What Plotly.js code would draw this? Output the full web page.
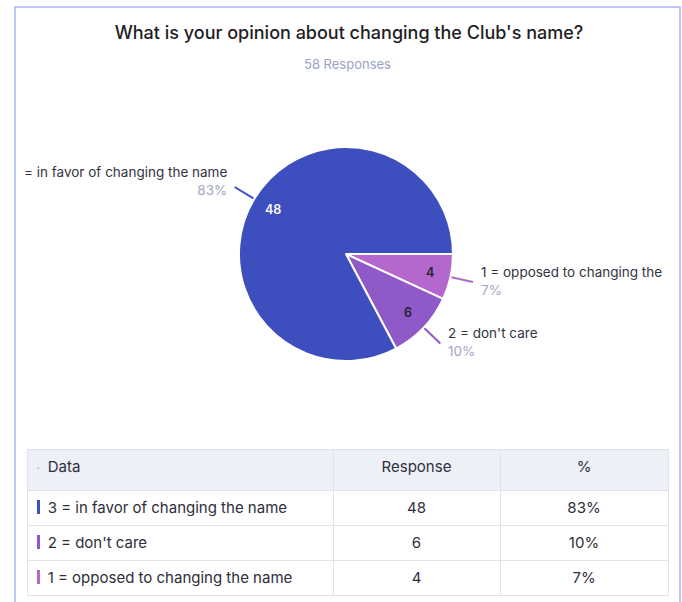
<!DOCTYPE html>
<html>
<head>
<meta charset="utf-8">
<script src="https://cdn.plot.ly/plotly-3.0.1.min.js"></script>
<style>
  html, body { margin: 0; padding: 0; background: #ffffff; }
  #chart { width: 682px; height: 602px; }
</style>
</head>
<body>
<div id="chart"></div>
<script>
// ---- data ----
var categories = ["1 = opposed to changing the name", "2 = don't care", "3 = in favor of changing the name"];
var sliceLabels = ["1 = opposed to changing the", "2 = don't care", "= in favor of changing the name"];
var responses = [4, 6, 48];
var percentLabels = ["7%", "10%", "83%"];
var colors = ["#b467cc", "#8f5ac8", "#3d4ebf"];
var totalResponses = 58;
var titleText = "What is your opinion about changing the Club's name?";
var tableHeader = ["Data", "Response", "%"];

// table rows ordered as in the reference (largest first)
var tableOrder = [2, 1, 0];

// ---- layout constants ----
var W = 682, H = 602;
var pieDomain = { x: [0.3504, 0.6642], y: [0.4003, 0.7558] };
var FONT = "Inter, 'Open Sans', 'DejaVu Sans', sans-serif";
var NB = "\u00a0";
var tableLeft = 27, tableRight = 668, tableTop = 449, headerH = 41, rowH = 35;
var textShift = 4;

var cx = (pieDomain.x[0] + pieDomain.x[1]) / 2 * W;
var cy = (1 - (pieDomain.y[0] + pieDomain.y[1]) / 2) * H;
var r = Math.min((pieDomain.x[1] - pieDomain.x[0]) * W, (pieDomain.y[1] - pieDomain.y[0]) * H) / 2;

function toPaper(px, py) { return { x: px / W, y: 1 - py / H }; }
function nbsp(t) { return t.replace(/ /g, NB); }

var total = responses.reduce(function (a, b) { return a + b; }, 0);
var annotations = [];
var shapes = [];

// card border
shapes.push({ type: "rect", xref: "paper", yref: "paper", x0: 15 / W, x1: 680 / W, y0: -0.02, y1: 1 - 7 / H,
  line: { color: "#a5b6f7", width: 1.5 }, fillcolor: "rgba(0,0,0,0)", layer: "below" });

var cum = 0;
for (var i = 0; i < responses.length; i++) {
  var a0 = cum / total * 2 * Math.PI;
  cum += responses[i];
  var a1 = cum / total * 2 * Math.PI;
  var am = (a0 + a1) / 2;             // clockwise from 3 o'clock
  var c = Math.cos(am), s = Math.sin(am);
  // inside value label
  var pin = toPaper(cx + 0.8 * r * c, cy + 0.8 * r * s);
  annotations.push({ xref: "paper", yref: "paper", x: pin.x, y: pin.y, showarrow: false,
    text: String(responses[i]), xanchor: "center", yanchor: "middle",
    font: { family: FONT, size: 12.5, color: i === 2 ? "#ffffff" : "#22222e", weight: 600 } });
  // leader line
  var p0 = toPaper(cx + (r + 1) * c, cy + (r + 1) * s);
  var ex = cx + (r + 23) * c, ey = cy + (r + 23) * s;
  var p1 = toPaper(ex, ey);
  shapes.push({ type: "line", xref: "paper", yref: "paper", x0: p0.x, y0: p0.y, x1: p1.x, y1: p1.y,
    line: { color: colors[i], width: 2 } });
  // outside label
  var right = c >= 0;
  var pt = toPaper(ex + (right ? 6 : -6), ey + (right ? -1 : -6));
  annotations.push({ xref: "paper", yref: "paper", x: pt.x, y: pt.y, showarrow: false,
    xanchor: right ? "left" : "right", yanchor: "middle", align: right ? "left" : "right",
    text: sliceLabels[i] + "<br><span style='color:#a2a6c6'>" + percentLabels[i] + "</span>",
    font: { family: FONT, size: 13.5, color: "#333340" } });
}

// subtitle
annotations.push({ xref: "paper", yref: "paper", x: 347 / W, y: 1 - 64 / H, showarrow: false,
  xanchor: "center", yanchor: "middle", text: totalResponses + " Responses",
  font: { family: FONT, size: 13, color: "#9aa2c6" } });

// ---- traces ----
var pie = {
  type: "pie",
  labels: categories,
  values: responses,
  sort: false,
  direction: "clockwise",
  rotation: 90,
  domain: pieDomain,
  marker: { colors: colors, line: { color: "#ffffff", width: 2 } },
  textinfo: "none",
  hoverinfo: "label+value+percent",
  showlegend: false
};

var col1 = [], col2 = [], col3 = [];
tableOrder.forEach(function (k, j) {
  col1.push(NB + NB + NB + nbsp(categories[k]));
  col2.push(String(responses[k]));
  col3.push(percentLabels[k]);
  // coloured row marker bar
  var yc = tableTop + headerH + j * rowH + 17;
  shapes.push({ type: "rect", xref: "paper", yref: "paper", layer: "above",
    x0: 37 / W, x1: 40 / W, y0: 1 - (yc + 7) / H, y1: 1 - (yc - 7) / H,
    fillcolor: colors[k], line: { width: 0 } });
});
// small dot in header
shapes.push({ type: "circle", xref: "paper", yref: "paper", layer: "above",
  x0: 37 / W, x1: 39.5 / W, y0: 1 - (tableTop + 20.5) / H, y1: 1 - (tableTop + 18) / H,
  fillcolor: "#c9ccda", line: { width: 0 } });

var table = {
  type: "table",
  domain: { x: [tableLeft / W, tableRight / W], y: [1 - (tableTop + headerH + 3 * rowH + 1) / H, 1 - tableTop / H] },
  columnwidth: [306, 167, 168],
  header: {
    values: [NB + NB + NB + tableHeader[0], tableHeader[1], tableHeader[2]],
    align: ["left", "center", "center"],
    height: headerH,
    fill: { color: "#eef0f8" },
    line: { color: "#e0e2ec", width: 1 },
    font: { family: FONT, size: 15, color: "#2e2e3a" }
  },
  cells: {
    values: [col1, col2, col3],
    align: ["left", "center", "center"],
    height: rowH,
    fill: { color: "#ffffff" },
    line: { color: "#e0e2ec", width: 1 },
    font: { family: FONT, size: 15, color: "#2e2e3a" }
  }
};

var layout = {
  width: W, height: H,
  margin: { l: 0, r: 0, t: 0, b: 0 },
  paper_bgcolor: "#ffffff",
  title: { text: titleText, x: 349 / W, xanchor: "center", y: 1 - 33 / H, yanchor: "middle",
    font: { family: FONT, size: 18, color: "#1e1e24", weight: 500 } },
  annotations: annotations,
  shapes: shapes,
  showlegend: false
};

Plotly.newPlot("chart", [pie, table], layout, { displayModeBar: false, staticPlot: true }).then(function (gd) {
  // nudge table texts down so they sit vertically centred in their rows
  var texts = gd.querySelectorAll("text.cell-text");
  texts.forEach(function (t) { t.setAttribute("transform", "translate(0," + textShift + ")"); });
});
</script>
</body>
</html>
